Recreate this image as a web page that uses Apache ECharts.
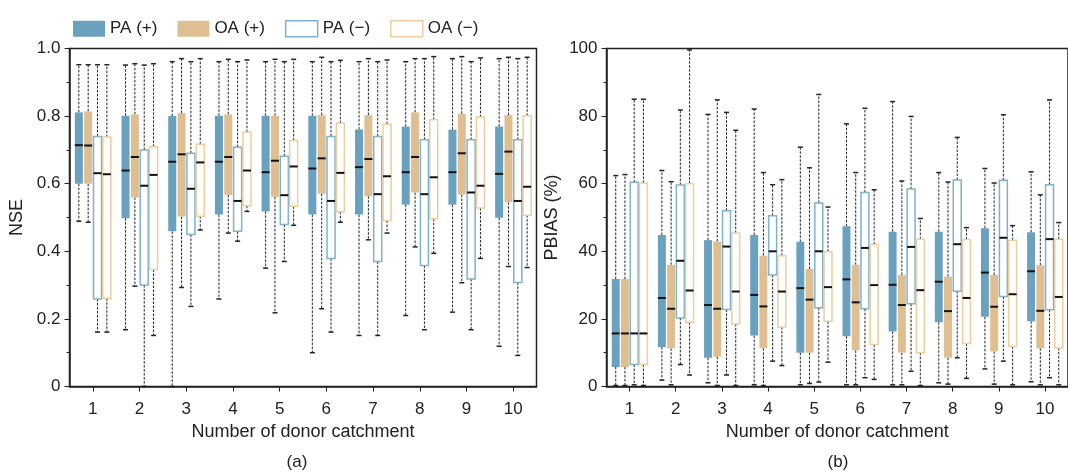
<!DOCTYPE html>
<html><head><meta charset="utf-8">
<script src="https://cdn.jsdelivr.net/npm/echarts@6/dist/echarts.min.js"></script>
<style>html,body{margin:0;padding:0;background:#fff}#c{width:1068px;height:472px}</style>
</head><body><div id="c"></div><script>
const categories = ['1','2','3','4','5','6','7','8','9','10'];
const seriesNames = ['PA (+)','OA (+)','PA (\u2212)','OA (\u2212)'];
const nseTicks = [0, 0.2, 0.4, 0.6, 0.8, 1.0];
const pbiasTicks = [0, 20, 40, 60, 80, 100];
// each entry: [min, q1, median, q3, max]
const nsePAplus = [[0.489,0.600,0.714,0.811,0.952],[0.168,0.498,0.639,0.801,0.951],[0.0,0.459,0.665,0.800,0.961],[0.259,0.509,0.665,0.801,0.961],[0.350,0.518,0.634,0.801,0.961],[0.100,0.509,0.645,0.801,0.961],[0.151,0.509,0.649,0.760,0.961],[0.210,0.538,0.634,0.769,0.961],[0.220,0.538,0.634,0.760,0.970],[0.119,0.499,0.629,0.769,0.970]];
const nseOAplus = [[0.486,0.600,0.713,0.814,0.952],[0.297,0.559,0.679,0.805,0.955],[0.293,0.503,0.687,0.809,0.970],[0.454,0.567,0.679,0.805,0.968],[0.218,0.561,0.668,0.801,0.968],[0.230,0.570,0.675,0.803,0.974],[0.434,0.563,0.673,0.803,0.970],[0.413,0.574,0.679,0.811,0.970],[0.307,0.568,0.690,0.807,0.976],[0.355,0.545,0.695,0.803,0.974]];
const nsePAminus = [[0.161,0.259,0.631,0.740,0.952],[0.0,0.300,0.594,0.700,0.951],[0.237,0.450,0.585,0.690,0.961],[0.430,0.459,0.549,0.708,0.961],[0.370,0.479,0.566,0.681,0.961],[0.161,0.379,0.549,0.740,0.961],[0.151,0.370,0.569,0.740,0.961],[0.168,0.358,0.569,0.730,0.970],[0.168,0.318,0.574,0.730,0.961],[0.092,0.308,0.549,0.730,0.970]];
const nseOAminus = [[0.161,0.261,0.628,0.738,0.952],[0.151,0.346,0.626,0.709,0.955],[0.463,0.504,0.663,0.717,0.970],[0.518,0.535,0.639,0.752,0.966],[0.477,0.533,0.651,0.728,0.968],[0.486,0.517,0.632,0.779,0.965],[0.454,0.491,0.622,0.776,0.966],[0.394,0.496,0.619,0.789,0.976],[0.379,0.528,0.594,0.797,0.972],[0.352,0.507,0.591,0.801,0.974]];
const pbPAplus = [[0.3,5.8,15.7,31.8,62.4],[1.9,11.7,26.2,44.8,63.9],[1.1,8.5,24.1,43.3,80.5],[0.5,15.1,27.1,44.8,82.1],[0.5,10.0,29.1,42.8,70.8],[0.5,14.9,31.7,47.4,77.7],[0.5,16.3,30.1,45.8,84.3],[1.1,19.0,31.0,45.8,63.3],[5.2,20.6,33.7,46.8,64.5],[1.4,19.3,34.1,45.6,63.5]];
const pbOAplus = [[0.3,5.8,15.7,31.8,62.7],[0.5,11.3,23.0,36.0,60.6],[0.3,8.8,23.0,42.9,84.8],[0.3,11.3,23.7,38.7,63.3],[0.9,10.0,25.7,34.8,64.7],[0.5,10.7,24.9,36.0,63.3],[0.5,10.0,24.1,33.0,60.8],[0.7,8.5,22.3,32.5,60.5],[0.7,10.4,23.6,33.0,60.2],[0.5,11.3,22.4,35.9,56.7]];
const pbPAminus = [[0.5,6.5,15.7,60.4,85.0],[6.5,20.3,37.2,59.6,81.8],[3.4,22.8,41.4,52.0,81.1],[7.5,33.0,40.0,50.5,59.7],[1.3,23.3,40.0,54.3,86.4],[2.6,23.0,41.0,57.4,82.3],[4.5,24.5,41.3,58.4,79.9],[8.5,28.2,42.1,61.1,73.7],[7.5,26.6,44.0,61.0,80.4],[2.6,22.7,43.6,59.7,84.8]];
const pbOAminus = [[0.3,6.5,15.7,60.2,85.0],[3.4,19.0,28.4,60.0,99.6],[0.3,18.5,28.1,45.4,75.8],[6.2,17.6,28.1,38.7,61.2],[7.2,19.3,29.4,39.9,53.1],[2.1,12.4,30.0,42.0,58.2],[0.3,10.0,28.5,43.6,49.7],[2.4,12.7,26.2,43.5,47.0],[0.5,11.8,27.3,43.3,47.6],[0.5,11.4,26.5,43.6,48.5]];

const FONT = '"Liberation Sans", Arial, sans-serif';
const TXT = '#222';
const COL = { paFill:'#6aa1bf', oaFill:'#dfbf92', paLine:'#7fb1d0', oaLine:'#efcd9e' };

function makeRender(slot, filled, fill, stroke) {
  return function (params, api) {
    const c = api.value(0);
    const band = api.size([1, 0])[0];
    const step = band * 0.2;
    const w = band * 0.172;
    const x = api.coord([c, 0])[0] + (slot - 1.5) * step;
    const Y = k => api.coord([c, api.value(k)])[1];
    const yMin = Y(1), yQ1 = Y(2), yMed = Y(3), yQ3 = Y(4), yMax = Y(5);
    const dash = { stroke: '#222', lineWidth: 1, lineDash: [2.5, 1.5] };
    const cap = { stroke: '#222', lineWidth: 1.5 };
    return {
      type: 'group',
      children: [
        { type: 'line', shape: { x1: x, y1: yQ3, x2: x, y2: yMax }, style: dash },
        { type: 'line', shape: { x1: x, y1: yQ1, x2: x, y2: yMin }, style: dash },
        { type: 'line', shape: { x1: x - 2.5, y1: yMax, x2: x + 2.5, y2: yMax }, style: cap },
        { type: 'line', shape: { x1: x - 2.5, y1: yMin, x2: x + 2.5, y2: yMin }, style: cap },
        { type: 'rect', shape: { x: x - w / 2, y: yQ3, width: w, height: yQ1 - yQ3 },
          style: filled ? { fill: fill, stroke: null } : { fill: '#fff', stroke: stroke, lineWidth: 1.5 } },
        { type: 'line', shape: { x1: x - w / 2, y1: yMed, x2: x + w / 2, y2: yMed }, style: { stroke: '#111', lineWidth: 2 } }
      ]
    };
  };
}

function toData(arr) { return arr.map((d, i) => [i].concat(d)); }

const styles = [
  { filled: true, fill: COL.paFill, stroke: COL.paFill },
  { filled: true, fill: COL.oaFill, stroke: COL.oaFill },
  { filled: false, fill: '#fff', stroke: COL.paLine },
  { filled: false, fill: '#fff', stroke: COL.oaLine }
];
const panels = [
  [nsePAplus, nseOAplus, nsePAminus, nseOAminus],
  [pbPAplus, pbOAplus, pbPAminus, pbOAminus]
];

const series = [];
panels.forEach((sets, p) => {
  sets.forEach((arr, s) => {
    const st = styles[s];
    series.push({
      name: seriesNames[s], type: 'custom', xAxisIndex: p, yAxisIndex: p,
      renderItem: makeRender(s, st.filled, st.fill, st.stroke),
      itemStyle: { color: st.fill, borderColor: st.stroke },
      encode: { x: 0, y: [1, 2, 3, 4, 5] },
      data: toData(arr), silent: true, clip: false
    });
  });
});

function xAxis(gi) {
  return {
    type: 'category', gridIndex: gi, data: categories, boundaryGap: true,
    name: 'Number of donor catchment', nameLocation: 'middle', nameGap: 37,
    nameTextStyle: { fontFamily: FONT, fontSize: 18, color: TXT },
    axisLine: { show: true, lineStyle: { color: '#222', width: 1.5 } },
    axisTick: { show: true, alignWithLabel: true, length: 5, lineStyle: { color: '#222' } },
    axisLabel: { fontFamily: FONT, fontSize: 17, color: TXT, margin: 14 },
    splitLine: { show: false }
  };
}
function yAxis(gi, ticks, name, fmt) {
  return {
    type: 'value', gridIndex: gi, min: ticks[0], max: ticks[ticks.length - 1],
    interval: ticks[1] - ticks[0],
    name: name, nameLocation: 'middle', nameRotate: 90, nameGap: gi === 0 ? 43 : 45,
    nameTextStyle: { fontFamily: FONT, fontSize: 18, color: TXT },
    axisLine: { show: true, lineStyle: { color: '#222', width: 1.5 } },
    axisTick: { show: true, length: 5, lineStyle: { color: '#222' } },
    minorTick: { show: true, splitNumber: 2, length: 3, lineStyle: { color: '#222' } },
    axisLabel: { fontFamily: FONT, fontSize: 17, color: TXT, margin: 9, formatter: fmt },
    splitLine: { show: false }
  };
}

const chart = echarts.init(document.getElementById('c'), null, { renderer: 'canvas' });
chart.setOption({
  animation: false,
  backgroundColor: '#fff',
  legend: {
    left: 68, top: 15, itemWidth: 32, itemHeight: 16, itemGap: 20,
    textStyle: { fontFamily: FONT, fontSize: 17, color: TXT },
    data: seriesNames.map((n, i) => ({
      name: n, icon: 'rect',
      itemStyle: styles[i].filled
        ? { color: styles[i].fill, borderWidth: 0 }
        : { color: '#fff', borderColor: styles[i].stroke, borderWidth: 1.5 }
    }))
  },
  grid: [
    { left: 69.5, width: 467, top: 48.5, bottom: 85.5, show: true, borderColor: '#222', borderWidth: 1.5 },
    { left: 606.5, width: 467, top: 48.5, bottom: 85.5, show: true, borderColor: '#222', borderWidth: 1.5 }
  ],
  xAxis: [xAxis(0), xAxis(1)],
  yAxis: [
    yAxis(0, nseTicks, 'NSE', v => v === 0 ? '0' : v.toFixed(1)),
    yAxis(1, pbiasTicks, 'PBIAS (%)', v => String(v))
  ],
  graphic: [
    { type: 'text', x: 297, y: 454, style: { text: '(a)', font: '17px ' + FONT, fill: TXT, textAlign: 'center' } },
    { type: 'text', x: 838, y: 454, style: { text: '(b)', font: '17px ' + FONT, fill: TXT, textAlign: 'center' } }
  ],
  series: series
});
</script></body></html>
